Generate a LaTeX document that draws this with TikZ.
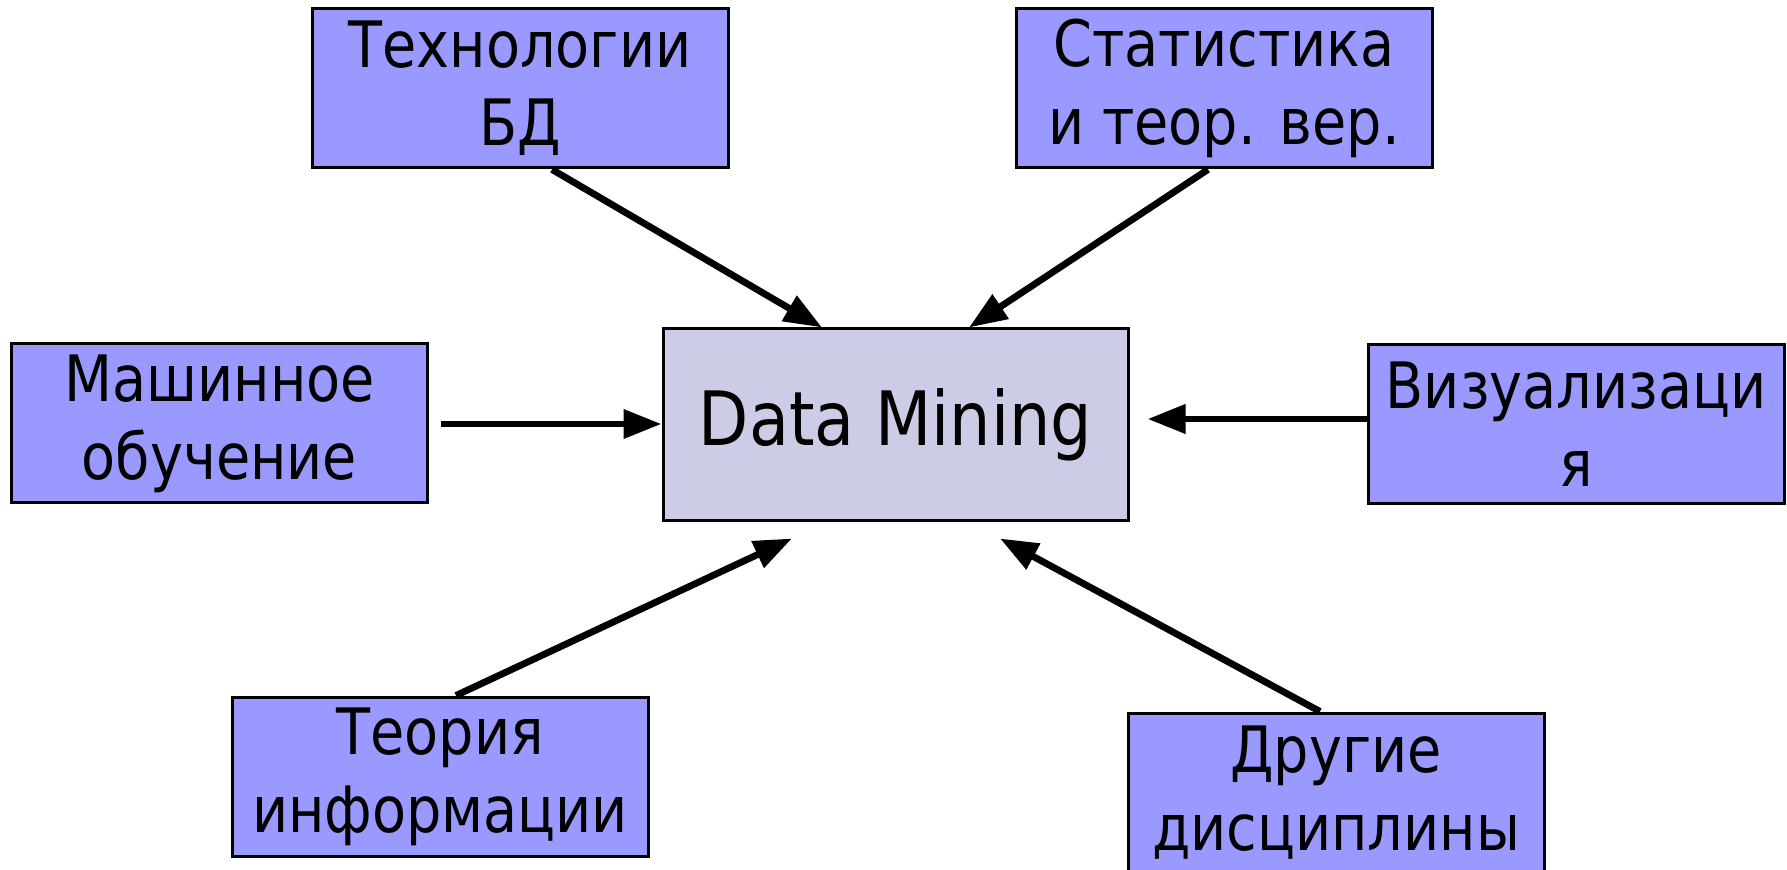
\documentclass[tikz,border=0pt]{standalone}
\usepackage{fontspec}
\setmainfont[FakeStretch=0.87]{DejaVu Sans}
\usepackage{tikz}
\usetikzlibrary{arrows.meta, calc}
\definecolor{boxblue}{RGB}{153,153,255}
\definecolor{dmgray}{RGB}{204,204,230}
\tikzstyle{arrow} = [line width=3.4pt, -{Triangle[length=19pt, width=14pt]}]
\tikzstyle{block} = [rectangle, draw, line width=1.5pt, fill=boxblue, minimum width=208pt, minimum height=79.5pt, inner sep=0pt, font=\fontsize{32}{39}\selectfont]
\tikzset{every node/.style={align=center}}

\begin{document}
\begin{tikzpicture}[x=0.5pt, y=-0.5pt]
    \useasboundingbox (0,0) rectangle (1787,870);

    \node (dm)    at (895.5, 425)  [block, fill=dmgray, minimum width=232.5pt, minimum height=96pt,
                                    font=\fontsize{37.5}{44}\selectfont] {Data Mining};
    \node (tech)  at (520,   88.5) [block] {Технологии\\БД};
    \node (stat)  at (1224,  88.5) [block] {Статистика\\и теор. вер.};
    \node (ml)    at (219.5, 423.5)[block] {Машинное\\обучение};
    \node (vis)   at (1576,  424.5)[block] {Визуализаци\\я};
    \node (info)  at (440,   776.5)[block] {Теория\\информации};
    \node (other) at (1336,  792.5)[block] {Другие\\дисциплины};

    \draw [arrow] ($(tech.south)+(32,0)$)   -- ($(dm.north)+(-73.5,0)$);
    \draw [arrow] ($(stat.south)+(-16,0)$)  -- ($(dm.north)+(73.5,0)$);
    \draw [arrow] ($(ml.east)+(12,0.5)$)    -- ($(dm.west)+(0,-1)$);
    \draw [arrow] ($(vis.west)+(0,-5.5)$)   -- ($(dm.east)+(18,-6)$);
    \draw [arrow] ($(info.north)+(16,0)$)   -- ($(dm.south)+(-103.5,16)$);
    \draw [arrow] ($(other.north)+(-16,0)$) -- ($(dm.south)+(104.5,16)$);
\end{tikzpicture}
\end{document}
